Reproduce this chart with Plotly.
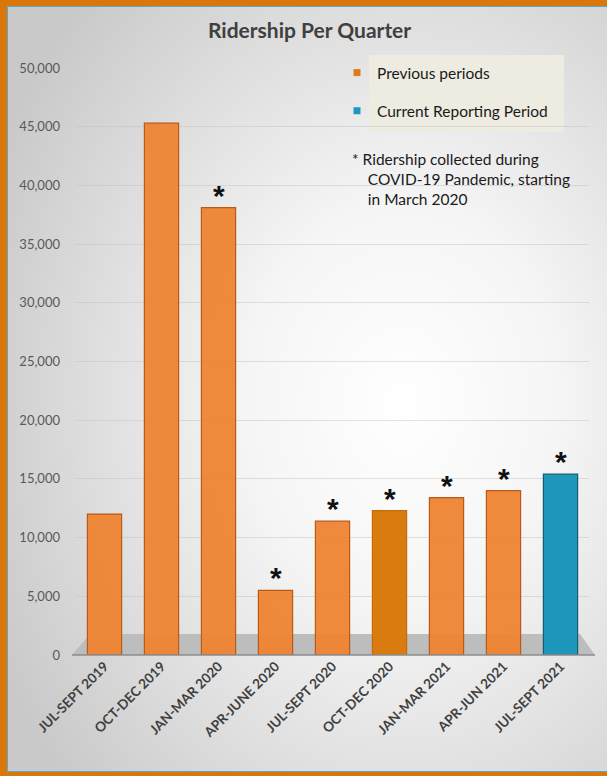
import base64
import plotly.graph_objects as go

# ---------------- data ----------------
quarters = ["JUL-SEPT 2019", "OCT-DEC 2019", "JAN-MAR 2020", "APR-JUNE 2020",
            "JUL-SEPT 2020", "OCT-DEC 2020", "JAN-MAR 2021", "APR-JUN 2021",
            "JUL-SEPT 2021"]
ridership = [12000, 45300, 38100, 5500, 11400, 12300, 13400, 14000, 15400]
covid_flag = [False, False, True, True, True, True, True, True, True]
current_period = [False, False, False, False, False, False, False, False, True]
y_ticks = [0, 5000, 10000, 15000, 20000, 25000, 30000, 35000, 40000, 45000, 50000]

# ---------------- style ----------------
ORANGE = "rgba(238,131,48,0.95)"
ORANGE_DARK = "#DA7B0F"
TEAL = "#1F97BA"
FONT = "Lato"
W, H = 607, 776
L, R, T, B = 76, 18, 68, 121
PW, PH = W - L - R, H - T - B


def px_x(x):
    return (x - L) / PW


def px_y(y):
    return (H - B - y) / PH


bar_colors = []
line_colors = []
for i, cur in enumerate(current_period):
    if cur:
        bar_colors.append(TEAL)
        line_colors.append("#0F5E75")
    elif quarters[i] == "OCT-DEC 2020":
        bar_colors.append(ORANGE_DARK)
        line_colors.append("#C46C08")
    else:
        bar_colors.append(ORANGE)
        line_colors.append("#B85A18")

fig = go.Figure()
fig.add_trace(go.Bar(
    x=quarters, y=ridership,
    marker=dict(color=bar_colors, line=dict(color=line_colors, width=1.2)),
    width=0.6, showlegend=False, hoverinfo="x+y",
))
# legend-only entries
fig.add_trace(go.Scatter(x=[None], y=[None], mode="markers", name="Previous periods",
                         marker=dict(symbol="square", size=7, color="#E07B17"),
                         legendgroup="a"))
fig.add_trace(go.Scatter(x=[None], y=[None], mode="markers", name="Current Reporting Period",
                         marker=dict(symbol="square", size=7, color="#2196BF"),
                         legendgroup="b"))

# asterisks above COVID-era bars
for q, v, f in zip(quarters, ridership, covid_flag):
    if f:
        fig.add_annotation(x=q, y=v, text="*", showarrow=False, yanchor="bottom",
                           yshift=-6,
                           font=dict(family="Liberation Sans", size=30, color="#111111",
                                     weight="bold"))

fig.add_annotation(
    xref="paper", yref="paper", x=px_x(350), y=px_y(148), xanchor="left", yanchor="top",
    align="left", showarrow=False,
    text="* Ridership collected during<br>\u00a0\u00a0\u00a0\u00a0COVID-19 Pandemic, starting<br>\u00a0\u00a0\u00a0\u00a0in March 2020",
    font=dict(family=FONT, size=15.5, color="#1A1A1A"),
)

# background gradient
svg = ("<svg xmlns='http://www.w3.org/2000/svg' width='600' height='766' viewBox='0 0 600 766' "
       "preserveAspectRatio='none'><defs><radialGradient id='g' cx='0.66' cy='0.52' r='0.75'>"
       "<stop offset='0' stop-color='#FFFFFF'/><stop offset='0.35' stop-color='#F5F5F5'/>"
       "<stop offset='1' stop-color='#C9C9C9'/></radialGradient></defs>"
       "<rect width='600' height='766' fill='url(#g)'/></svg>")
src = "data:image/svg+xml;base64," + base64.b64encode(svg.encode()).decode()
fig.add_layout_image(dict(source=src, xref="paper", yref="paper",
                          x=px_x(7), y=px_y(6), sizex=(W - 7) / PW, sizey=(772 - 6) / PH,
                          xanchor="left", yanchor="top", sizing="stretch", layer="below"))

shapes = [
    # inner thin blue frame
    dict(type="rect", xref="paper", yref="paper", x0=px_x(7.5), x1=px_x(W + 5),
         y0=px_y(771.5), y1=px_y(6.5), line=dict(color="#5AA9CC", width=1), layer="below"),
    # floor
    dict(type="path", xref="paper", yref="paper",
         path=f"M {px_x(72)},{px_y(655)} L {px_x(595)},{px_y(655)} L {px_x(580)},{px_y(634)} L {px_x(90)},{px_y(634)} Z",
         fillcolor="#BDBDBD", line=dict(width=0), layer="below"),
    dict(type="line", xref="paper", yref="paper", x0=px_x(72), x1=px_x(595),
         y0=px_y(655), y1=px_y(655), line=dict(color="#8C8C8C", width=1.5), layer="above"),
    # legend text box
    dict(type="rect", xref="paper", yref="paper", x0=px_x(369), x1=px_x(564),
         y0=px_y(132), y1=px_y(55), fillcolor="#EEEBE0", line=dict(width=0), layer="below"),
]
fig.update_layout(shapes=shapes)

fig.update_layout(
    width=W, height=H,
    margin=dict(l=L, r=R, t=T, b=B, pad=0),
    paper_bgcolor="#D9770B",
    plot_bgcolor="rgba(0,0,0,0)",
    font=dict(family=FONT, color="#404040"),
    title=dict(text="Ridership Per Quarter", x=0.51, xref="container", xanchor="center",
               y=1 - 31 / H, yref="container", yanchor="middle",
               font=dict(family=FONT, size=21, color="#404040", weight="bold")),
    barmode="overlay",
    legend=dict(x=px_x(337), y=px_y(56), xanchor="left", yanchor="top",
                bgcolor="rgba(0,0,0,0)", borderwidth=0, tracegroupgap=15,
                font=dict(family=FONT, size=15.5, color="#1A1A1A")),
    xaxis=dict(type="category", categoryorder="array", categoryarray=quarters,
               tickangle=-45, tickfont=dict(family=FONT, size=13.5, color="#404040", weight="bold"),
               showline=False, showgrid=False, ticks="", fixedrange=True),
    yaxis=dict(range=[0, 50000], tickvals=y_ticks, tickformat=",",
               tickfont=dict(family=FONT, size=13, color="#595959"),
               showgrid=True, gridcolor="rgba(190,190,190,0.45)", gridwidth=1,
               zeroline=False, showline=False, ticks="", ticklabelstandoff=15,
               fixedrange=True),
)

fig.write_html("out.html", config={"displayModeBar": False},
               post_script="document.body.style.margin='0';document.body.style.padding='0';")
